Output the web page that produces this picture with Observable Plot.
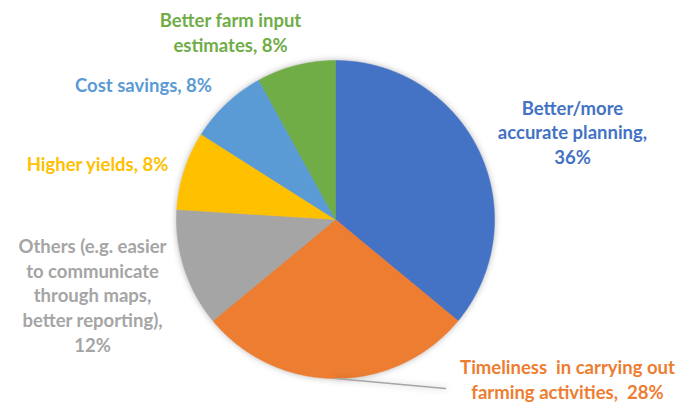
<!DOCTYPE html>
<html>
<head>
<meta charset="utf-8">
<script src="https://cdn.jsdelivr.net/npm/d3@7"></script>
<script src="https://cdn.jsdelivr.net/npm/@observablehq/plot@0.6"></script>
<style>
  html, body { margin: 0; padding: 0; background: #fff; }
  #chart svg g[aria-label="line"] { filter: drop-shadow(0 0 3px rgba(0,0,0,0.28)); }
</style>
</head>
<body>
<div id="chart"></div>
<script>
// ---- data ----
const categories = [
  "Better/more accurate planning",
  "Timeliness in carrying out farming activities",
  "Others (e.g. easier to communicate through maps, better reporting)",
  "Higher yields",
  "Cost savings",
  "Better farm input estimates"
];
const values = [36, 28, 12, 8, 8, 8];
const labelTexts = [
  "Better/more\naccurate planning,\n36%",
  "Timeliness  in carrying out\nfarming activities,  28%",
  "Others (e.g. easier\nto communicate\nthrough maps,\nbetter reporting),\n12%",
  "Higher yields, 8%",
  "Cost savings, 8%",
  "Better farm input\nestimates, 8%"
];
const colors = ["#4472C4", "#ED7D31", "#A5A5A5", "#FFC000", "#5B9BD5", "#70AD47"];

// ---- layout ----
const W = 683, H = 402;
const cx = 335, cy = 219, R = 159;
// label block centres in pixels
const labelPos = [[572, 131], [567, 378], [92, 294], [97, 163], [143, 84], [230, 31]];
const leaderEnd = [445, 388];

const px2x = px => (px - cx) / R;
const py2y = py => (cy - py) / R;

const table = categories.map((c, i) => ({key: c, value: values[i], label: labelTexts[i], color: colors[i]}));
const arcs = d3.pie().sort(null).value(d => d.value).startAngle(0).endAngle(2 * Math.PI)(table);

const pts = [];
arcs.forEach(a => {
  const k = a.data.key;
  pts.push({key: k, x: 0, y: 0});
  const n = Math.max(8, Math.ceil((a.endAngle - a.startAngle) / 0.01));
  for (let j = 0; j <= n; j++) {
    const t = a.startAngle + (a.endAngle - a.startAngle) * j / n;
    pts.push({key: k, x: Math.sin(t), y: Math.cos(t)});
  }
  pts.push({key: k, x: 0, y: 0});
});

const labels = table.map((d, i) => ({...d, x: px2x(labelPos[i][0]), y: py2y(labelPos[i][1])}));

const tArc = arcs[1];
const mid = (tArc.startAngle + tArc.endAngle) / 2;
const leader = [
  {x: Math.sin(mid), y: Math.cos(mid)},
  {x: px2x(leaderEnd[0]), y: py2y(leaderEnd[1])}
];

const chart = Plot.plot({
  width: W, height: H,
  margin: 0,
  x: {domain: [px2x(0), px2x(W)], axis: null},
  y: {domain: [py2y(H), py2y(0)], axis: null},
  color: {domain: categories, range: colors},
  style: {fontFamily: "Lato, sans-serif", background: "#fff"},
  marks: [
    Plot.line(pts, {x: "x", y: "y", z: "key", fill: "key", stroke: "key", strokeWidth: 0.5, curve: "linear"}),
    Plot.line(leader, {x: "x", y: "y", stroke: "#A5A5A5", strokeWidth: 1.3}),
    Plot.text(labels, {x: "x", y: "y", text: "label", fill: "key", fontSize: 18.5, fontWeight: "bold", lineHeight: 1.33, textAnchor: "middle", lineAnchor: "middle"})
  ]
});
document.getElementById("chart").appendChild(chart);
</script>
</body>
</html>
